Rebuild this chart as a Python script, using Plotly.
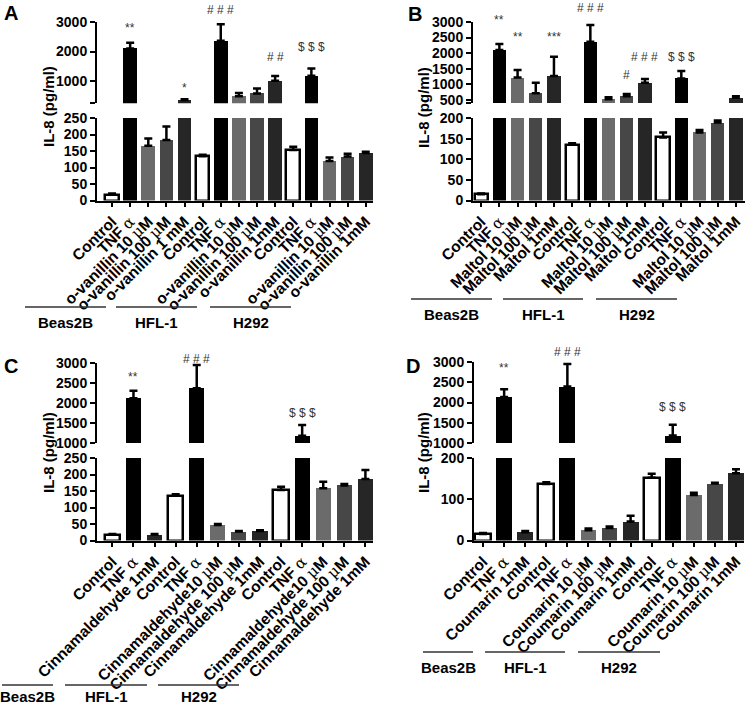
import plotly.graph_objects as go

# ---------------- data ----------------
labels_a = ["Control", "TNF α", "o-vanillin 10 µM", "o-vanillin 100 µM", "o-vanillin 1 mM",
            "Control", "TNF α", "o-vanillin 10 µM", "o-vanillin 100 µM", "o-vanillin 1mM",
            "Control", "TNF α", "o-vanillin 10 µM", "o-vanillin 100 µM", "o-vanillin 1mM"]
values_a = [18, 2105, 166, 183, 360, 134, 2366, 490, 583, 1010, 153, 1180, 120, 133, 144]
errors_a = [3, 190, 22, 41, 30, 5, 556, 110, 170, 160, 10, 250, 10, 9, 4]

labels_b = ["Control", "TNF α", "Maltol 10 µM", "Maltol 100 µM", "Maltol 1mM",
            "Control", "TNF α", "Maltol 10 µM", "Maltol 100 µM", "Maltol 1mM",
            "Control", "TNF α", "Maltol 10 µM", "Maltol 100 µM", "Maltol 1mM"]
values_b = [15, 2103, 1215, 715, 1269, 135, 2369, 522, 619, 1054, 153, 1190, 165, 189, 574]
errors_b = [2, 192, 247, 339, 619, 4, 535, 65, 73, 119, 12, 240, 6, 5, 45]

labels_c = ["Control", "TNF α", "Cinnamaldehyde 1mM",
            "Control", "TNF α", "Cinnamaldehyde10 µM", "Cinnamaldehyde 100 µM", "Cinnamaldehyde 1mM",
            "Control", "TNF α", "Cinnamaldehyde10 µM", "Cinnamaldehyde 100 µM", "Cinnamaldehyde 1mM"]
values_c = [18, 2117, 18, 136, 2367, 47, 27, 29, 153, 1183, 158, 167, 186]
errors_c = [2, 191, 2, 4, 583, 3, 2, 2, 10, 267, 20, 4, 28]

labels_d = ["Control", "TNF α", "Coumarin 1mM",
            "Control", "TNF α", "Coumarin 10 µM", "Coumarin 100 µM", "Coumarin 1mM",
            "Control", "TNF α", "Coumarin 10 µM", "Coumarin 100 µM", "Coumarin 1mM"]
values_d = [16, 2133, 20, 137, 2392, 25, 30, 46, 152, 1183, 110, 138, 163]
errors_d = [2, 192, 3, 4, 558, 4, 4, 14, 10, 267, 6, 2, 10]

group_names = ["Beas2B", "HFL-1", "H292"]
panel_letters = ["A", "B", "C", "D"]
y_title = "IL-8 (pg/ml)"

# significance marks: (bar index, text)
marks_a = [(1, "**"), (4, "*"), (6, "# # #"), (9, "# #"), (11, "$ $ $")]
marks_b = [(1, "**"), (2, "**"), (4, "***"), (6, "# # #"), (8, "#"), (9, "# # #"), (11, "$ $ $")]
marks_c = [(1, "**"), (4, "# # #"), (9, "$ $ $")]
marks_d = [(1, "**"), (4, "# # #"), (9, "$ $ $")]

# axis tick values (upper / lower segments of broken axes)
upper_ticks_a = [250, 1000, 2000, 3000]
lower_ticks_a = [0, 50, 100, 150, 200, 250]
upper_ticks_b = [400, 500, 1000, 1500, 2000, 2500, 3000]
lower_ticks_b = [0, 50, 100, 150, 200]
upper_ticks_c = [1000, 1500, 2000, 2500, 3000]
lower_ticks_c = [0, 50, 100, 150, 200, 250]
upper_ticks_d = [1000, 1500, 2000, 2500, 3000]
lower_ticks_d = [0, 100, 200]

# ---------------- styles ----------------
W, H = 750, 707
G1, G2, G3 = "#6b6b6b", "#474747", "#262626"
col15 = ["white", "black", G1, G2, G3] * 3
col13 = ["white", "black", G3, "white", "black", G1, G2, G3, "white", "black", G1, G2, G3]
FONT = "Liberation Sans, Arial, Helvetica, sans-serif"
ALPHA = "<span style='font-family:DejaVu Serif;font-weight:normal'>α</span>"
MU = "<span style='font-family:DejaVu Serif;font-weight:normal'>µ</span>"


def fx(px):
    return px / W


def fy(py):
    return 1 - py / H


def fmt(lbl):
    return lbl.replace("α", ALPHA).replace("µ", MU).replace("$", "&#36;")


panels = [
    dict(labels=labels_a, values=values_a, errors=errors_a, colors=col15, marks=marks_a,
         up_ticks=upper_ticks_a, lo_ticks=lower_ticks_a, up_hide_first=True,
         left=97, right=373, xr=[-0.83, 14.4], up=(22, 103.3), lo=(118, 200.5), bw=0.75,
         ytitle=(48, 107), letter=(11, 13),
         groups=[(25, 106), (116, 197), (210, 291)], gline=307, glabel=322,
         mark_y={0: 28, 1: 88, 2: 10, 3: 57, 4: 47}),
    dict(labels=labels_b, values=values_b, errors=errors_b, colors=col15, marks=marks_b,
         up_ticks=upper_ticks_b, lo_ticks=lower_ticks_b, up_hide_first=True,
         left=473, right=745, xr=[-0.45, 14.5], up=(22, 103), lo=(118, 200.5), bw=0.73,
         ytitle=(423, 107), letter=(415, 14),
         groups=[(411, 492), (503, 583), (596, 677)], gline=299, glabel=315,
         mark_y={0: 20, 1: 37, 2: 37, 3: 8, 4: 75, 5: 57, 6: 57}),
    dict(labels=labels_c, values=values_c, errors=errors_c, colors=col13, marks=marks_c,
         up_ticks=upper_ticks_c, lo_ticks=lower_ticks_c, up_hide_first=False,
         left=97, right=373, xr=[-0.73, 12.36], up=(363, 443), lo=(458, 540.5), bw=0.72,
         ytitle=(48, 453), letter=(11, 366),
         groups=[(2, 53), (65, 147), (158, 239)], gline=685, glabel=696,
         mark_y={0: 377, 1: 359, 2: 413}),
    dict(labels=labels_d, values=values_d, errors=errors_d, colors=col13, marks=marks_d,
         up_ticks=upper_ticks_d, lo_ticks=lower_ticks_d, up_hide_first=False,
         left=474, right=744, xr=[-0.43, 12.38], up=(362, 443), lo=(458, 540.5), bw=0.75,
         ytitle=(423, 452), letter=(413, 366),
         groups=[(423, 473), (485, 565), (578, 660)], gline=652, glabel=667,
         mark_y={0: 368, 1: 352, 2: 407}),
]

fig = go.Figure()
layout = dict(template="none", width=W, height=H, margin=dict(l=0, r=0, t=0, b=0, pad=0),
              paper_bgcolor="white", plot_bgcolor="rgba(0,0,0,0)", showlegend=False,
              font=dict(family=FONT, size=14, color="black", weight="bold"),
              bargap=0)
annotations = []
shapes = []

for p, P in enumerate(panels):
    ku = 2 * p + 1
    kl = 2 * p + 2
    n = len(P["values"])
    idx = list(range(n))
    lw = [2.5 if c == "white" else 0 for c in P["colors"]]
    ut = P["up_ticks"]
    lt = P["lo_ticks"]
    # upper segment shows only the bars that reach into it
    up_vals = [v if v > ut[0] else None for v in P["values"]]
    up_errs = [e if v > ut[0] else 0 for v, e in zip(P["values"], P["errors"])]
    for k, vals, errs in ((ku, up_vals, up_errs), (kl, P["values"], P["errors"])):
        fig.add_trace(go.Bar(
            x=idx, y=vals, width=P["bw"],
            marker=dict(color=P["colors"], line=dict(color="black", width=lw)),
            error_y=dict(type="data", symmetric=False, array=errs,
                         arrayminus=[0] * n, color="black", thickness=2.5, width=4),
            xaxis=f"x{k}", yaxis=f"y{k}", hoverinfo="skip"))
    xdom = [fx(P["left"]), min(1.0, fx(P["right"]))]
    layout[f"xaxis{kl}"] = dict(domain=xdom, anchor=f"y{kl}", range=P["xr"], automargin=False,
                                showline=True, linewidth=2, linecolor="black",
                                ticks="outside", ticklen=4, tickwidth=2, tickcolor="black",
                                tickvals=idx, ticktext=[fmt(s) for s in P["labels"]],
                                tickangle=-45, showgrid=False, zeroline=False,
                                tickfont=dict(family=FONT, size=15.5, weight="bold"))
    layout[f"xaxis{ku}"] = dict(domain=xdom, anchor=f"y{ku}", range=P["xr"], visible=False,
                                automargin=False, showgrid=False, zeroline=False)
    utext = [str(v) for v in ut]
    if P["up_hide_first"]:
        utext[0] = ""
    layout[f"yaxis{ku}"] = dict(domain=[fy(P["up"][1]), fy(P["up"][0])], anchor=f"x{ku}",
                                range=[ut[0], ut[-1]], tickvals=ut, ticktext=utext,
                                automargin=False,
                                showline=True, linewidth=2, linecolor="black",
                                ticks="outside", ticklen=5, tickwidth=2, tickcolor="black",
                                showgrid=False, zeroline=False,
                                tickfont=dict(family=FONT, size=14, weight="bold"))
    layout[f"yaxis{kl}"] = dict(domain=[fy(P["lo"][1]), fy(P["lo"][0])], anchor=f"x{kl}",
                                range=[lt[0], lt[-1]], tickvals=lt,
                                ticktext=[str(v) for v in lt], automargin=False,
                                showline=True, linewidth=2, linecolor="black",
                                ticks="outside", ticklen=5, tickwidth=2, tickcolor="black",
                                showgrid=False, zeroline=False,
                                tickfont=dict(family=FONT, size=14, weight="bold"))
    annotations.append(dict(text=y_title, textangle=-90, xref="paper", yref="paper",
                            x=fx(P["ytitle"][0]), y=fy(P["ytitle"][1]), showarrow=False,
                            xanchor="center", yanchor="middle",
                            font=dict(family=FONT, size=15, weight="bold")))
    annotations.append(dict(text=panel_letters[p], xref="paper", yref="paper",
                            x=fx(P["letter"][0]), y=fy(P["letter"][1]), showarrow=False,
                            xanchor="center", yanchor="middle",
                            font=dict(family=FONT, size=20, weight="bold")))
    for j, (bi, txt) in enumerate(P["marks"]):
        annotations.append(dict(text=fmt(txt), xref=f"x{kl}", yref="paper", x=bi,
                                y=fy(P["mark_y"][j]), showarrow=False,
                                xanchor="center", yanchor="middle",
                                font=dict(family=FONT, size=12, color="#333333",
                                          weight="normal")))
    for g, (x0, x1) in enumerate(P["groups"]):
        shapes.append(dict(type="line", xref="paper", yref="paper",
                           x0=max(0.0, fx(x0)), x1=fx(x1), y0=fy(P["gline"]), y1=fy(P["gline"]),
                           line=dict(color="#333333", width=1.5)))
        annotations.append(dict(text=group_names[g], xref="paper", yref="paper",
                                x=fx((x0 + x1) / 2), y=fy(P["glabel"]), showarrow=False,
                                xanchor="center", yanchor="middle",
                                font=dict(family=FONT, size=15, weight="bold")))

layout["annotations"] = annotations
layout["shapes"] = shapes
fig.update_layout(**layout)
fig.write_html("out.html", config={"displayModeBar": False},
               post_script="document.body.style.margin='0px';"
                           "document.body.style.overflow='hidden';")
